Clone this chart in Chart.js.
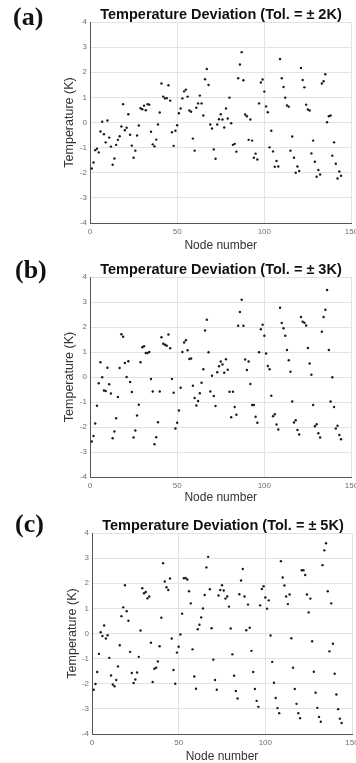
<!DOCTYPE html>
<html>
<head>
  <title>Temperature Deviation</title>
  <style>
    body { margin: 0; background: #fff; }
    #page { position: relative; width: 356px; height: 763px; overflow: hidden; background: #fff; }
    canvas { position: absolute; left: 0; }
    .tag { position: absolute; font: bold 26px "Liberation Serif", "Times New Roman", serif; line-height: 26px; color: #111; }
    .title { position: absolute; width: 262px; text-align: center; white-space: nowrap; color: #111;
             font: bold 14.5px "Liberation Sans", Arial, sans-serif; line-height: 14.5px; }
  </style>
</head>
<body>
<div id="page">
  <canvas id="chartA" width="356" height="258" style="top:0px"></canvas>
  <canvas id="chartB" width="356" height="258" style="top:255px"></canvas>
  <canvas id="chartC" width="356" height="258" style="top:505px"></canvas>

  <div class="tag" style="left:13px; top:4px">(a)</div>
  <div class="title" style="left:90px; top:7px">Temperature Deviation (Tol. = ± 2K)</div>

  <div class="tag" style="left:15px; top:257px">(b)</div>
  <div class="title" style="left:90px; top:262px">Temperature Deviation (Tol. = ± 3K)</div>

  <div class="tag" style="left:15px; top:511px">(c)</div>
  <div class="title" style="left:92px; top:518px">Temperature Deviation (Tol. = ± 5K)</div>
</div>

<script src="https://cdn.jsdelivr.net/npm/chart.js"></script>
<script>
  // node numbers along the x axis
  const nodes = [
    1, 2, 3, 4, 5, 6, 7, 8, 9, 10, 11, 12, 13, 14, 15, 16, 17, 18, 19, 20,
    21, 22, 23, 24, 25, 26, 27, 28, 29, 30, 31, 32, 33, 34, 35, 36, 37, 38, 39, 40,
    41, 42, 43, 44, 45, 46, 47, 48, 49, 50, 51, 52, 53, 54, 55, 56, 57, 58, 59, 60,
    61, 62, 63, 64, 65, 66, 67, 68, 69, 70, 71, 72, 73, 74, 75, 76, 77, 78, 79, 80,
    81, 82, 83, 84, 85, 86, 87, 88, 89, 90, 91, 92, 93, 94, 95, 96, 97, 98, 99, 100,
    101, 102, 103, 104, 105, 106, 107, 108, 109, 110, 111, 112, 113, 114, 115, 116, 117, 118, 119, 120,
    121, 122, 123, 124, 125, 126, 127, 128, 129, 130, 131, 132, 133, 134, 135, 136, 137, 138, 139, 140,
    141, 142, 143, 144
  ];

  // temperature deviation (K), tolerance +-2K
  const devTol2 = [
    -1.83, -1.59, -1.1, -1.04, -1.19, -0.36, 0.03, -0.47, -0.79, 0.08,
    -0.6, -0.96, -1.68, -1.43, -0.89, -0.69, -0.55, -0.16, 0.73, -0.31,
    -0.21, 0.33, -0.49, -0.92, -1.4, -1.12, -0.52, -0.12, 0.57, 0.53,
    0.67, 0.49, 0.73, 0.71, -0.37, -0.87, -0.95, -0.68, -0.08, 0.4,
    1.55, 1.03, 0.96, 0.97, 1.48, 0.87, -0.39, -0.93, -0.33, -0.11,
    0.37, 0.56, 0.96, 1.24, 1.31, 1.03, 0.48, 0.43, -0.64, -1.12,
    0.59, 0.76, 1.07, 0.76, 0.28, 1.72, 2.13, 1.49, -0.08, -0.24,
    -1.07, -1.44, -0.08, 0.13, 0.33, 0.12, -0.2, 0.56, 0.16, 0.99,
    -0.03, -0.89, -0.85, -1.16, 1.76, 2.31, 2.8, 1.68, 0.32, 0.25,
    -0.69, 0.12, -0.72, -1.4, -1.24, -1.47, 0.76, 1.59, 1.71, 1.23,
    0.64, 0.41, -0.99, -0.33, -1.15, -1.76, -1.53, -1.75, 2.53, 1.76,
    1.41, 0.99, 0.68, 0.63, -1.12, -0.56, -1.4, -2.0, -1.75, -1.93,
    2.17, 1.69, 1.4, 0.71, 0.52, 0.48, -1.23, -0.72, -1.56, -2.16,
    -1.89, -2.07, 1.55, 1.64, 1.92, 0.01, 0.25, 0.28, -1.32, -0.79,
    -1.64, -2.23, -1.95, -2.12
  ];

  // tolerance +-3K
  const devTol3 = [
    -2.58, -2.36, -1.86, -1.15, -0.25, 0.59, -0.01, -0.54, -0.56, 0.37,
    -0.29, -0.66, -2.45, -2.18, -1.65, -0.8, 0.36, 1.71, 1.61, 0.56,
    0, 0.63, -0.2, -0.6, -2.42, -2.14, -1.54, -1.11, 0.59, 1.19,
    1.23, 0.96, 0.96, 1.0, -0.08, -0.58, -2.69, -2.41, -1.81, -0.58,
    1.59, 1.33, 1.29, 1.25, 1.7, 1.15, -0.08, -0.63, -2.06, -1.83,
    -1.34, -0.43, 1.0, 1.38, 1.47, 1.07, 0.72, 0.74, -0.35, -0.84,
    -1.14, -0.96, -0.65, -0.23, 0.31, 1.86, 2.29, 0.99, -0.58, 0.05,
    -0.76, -1.16, 0.19, 0.43, 0.62, 0.5, 0.17, 0.71, 0.29, -0.59,
    -1.61, -0.59, -1.2, -1.51, 2.05, 2.6, 3.09, 2.05, 0.7, 0.28,
    0.62, -0.28, -1.12, -1.12, -1.59, -1.83, 0.99, 1.91, 2.09, 1.65,
    0.94, 0.44, 0.31, -0.75, -1.57, -1.49, -1.9, -2.1, 2.77, 2.16,
    1.95, 1.65, 1.08, 0.67, 0.21, -0.98, -1.82, -1.73, -2.12, -2.3,
    2.4, 2.21, 2.17, 2.06, 1.16, 0.54, 0.09, -1.12, -1.97, -1.89,
    -2.25, -2.42, 1.81, 2.4, 2.69, 3.48, 1.08, -0.98, -0.01, -1.2,
    -2.06, -1.95, -2.32, -2.49
  ];

  // tolerance +-5K
  const devTol5 = [
    -2.24, -2.01, -1.53, -0.81, 0.05, -0.1, 0.32, -0.2, -0.07, -0.97,
    -1.67, -2.03, -2.1, -1.85, -1.31, -0.47, 0.69, 1.04, 1.92, 0.89,
    0.51, -0.73, -1.57, -1.97, -1.83, -1.55, -0.93, 0.12, 1.8, 1.6,
    1.65, 1.4, 1.47, -0.37, -1.93, -1.4, -1.36, -1.11, -0.51, 0.63,
    2.8, 2.07, 1.84, 1.73, 2.19, -0.2, -1.45, -2.0, -0.76, -0.53,
    -0.04, 0.79, 2.2, 2.21, 2.15, 1.68, 1.2, -0.63, -1.71, -2.2,
    0.17, 0.35, 0.64, 1.0, 1.53, 2.63, 3.05, 1.76, 0.21, -1.04,
    -1.85, -2.24, 1.51, 1.73, 1.92, 1.71, 1.39, 1.47, 1.07, 0.2,
    -0.83, -1.68, -2.29, -2.59, 1.56, 2.11, 2.57, 1.47, 0.13, 1.15,
    0.23, -0.69, -1.53, -2.21, -2.68, -2.92, 1.12, 1.77, 1.88, 1.43,
    0.99, 1.32, -0.08, -1.13, -1.96, -2.57, -2.97, -3.17, 2.88, 2.23,
    1.91, 1.47, 1.17, 1.55, -0.19, -1.36, -2.21, -2.8, -3.17, -3.37,
    2.52, 2.52, 2.33, 1.55, 0.84, 1.39, -0.31, -1.52, -2.36, -2.96,
    -3.32, -3.51, 2.72, 3.31, 3.59, 1.68, -0.71, 1.2, -0.41, -1.6,
    -2.43, -3.01, -3.39, -3.56
  ];

  const xTicks = [0, 50, 100, 150];
  const yTicks = [-4, -3, -2, -1, 0, 1, 2, 3, 4];

  const FONT = '"Liberation Sans", Arial, sans-serif';

  function makeChart(id, values, box) {
    const points = nodes.map((n, i) => ({ x: n, y: values[i] }));
    return new Chart(document.getElementById(id), {
      type: 'scatter',
      data: {
        datasets: [{
          data: points,
          pointRadius: 1.2,
          pointBackgroundColor: '#1a1a1a',
          pointBorderWidth: 0
        }]
      },
      options: {
        responsive: false,
        animation: false,
        devicePixelRatio: 1,
        layout: { padding: { top: box.top, left: box.left, right: box.right, bottom: box.bottom } },
        plugins: { legend: { display: false }, tooltip: { enabled: false } },
        scales: {
          x: {
            type: 'linear', min: 0, max: 150,
            afterBuildTicks: s => { s.ticks = xTicks.map(v => ({ value: v })); },
            afterFit: s => { s.height = box.xHeight; s.paddingLeft = 0; s.paddingRight = 0; },
            grid: { color: '#e2e2e2', drawTicks: false },
            border: { color: '#555' },
            ticks: { color: '#707070', padding: 4, maxRotation: 0, font: { size: 8, family: FONT } },
            title: { display: true, text: 'Node number', color: '#333', padding: 0,
                     font: { size: 12, lineHeight: 1, family: FONT } }
          },
          y: {
            min: -4, max: 4,
            afterBuildTicks: s => { s.ticks = yTicks.map(v => ({ value: v })); },
            afterFit: s => { s.width = box.yWidth; s.paddingTop = 0; s.paddingBottom = 0; },
            grid: { color: '#e2e2e2', drawTicks: false },
            border: { color: '#555' },
            ticks: { color: '#707070', padding: 3, font: { size: 8, family: FONT } },
            title: { display: true, text: 'Temperature (K)', color: '#333', padding: 0,
                     font: { size: 12.5, lineHeight: 1, family: FONT } }
          }
        }
      }
    });
  }

  makeChart('chartA', devTol2, { top: 22, left: 63, right: 4.5, bottom: 6, yWidth: 27, xHeight: 29 });
  makeChart('chartB', devTol3, { top: 22, left: 63, right: 4.5, bottom: 9, yWidth: 27, xHeight: 27 });
  makeChart('chartC', devTol5, { top: 28, left: 66.5, right: 2, bottom: 0, yWidth: 25.5, xHeight: 29 });
</script>
</body>
</html>
